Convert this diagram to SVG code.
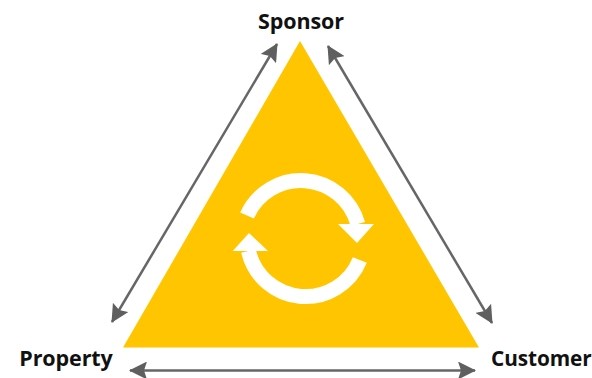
<svg xmlns="http://www.w3.org/2000/svg" width="592" height="378" viewBox="0 0 592 378">
<style>
.lbl{font-family:"Open Sans","Noto Sans",sans-serif;font-weight:700;font-size:21.500px;fill:#111;letter-spacing:-0.1px}
.conn{fill:none;stroke:#666;stroke-width:2.5;marker-start:url(#ah);marker-end:url(#ah)}
.cyc{fill:none;stroke:#fff;stroke-width:15}
</style>
<defs>
<marker id="ah" markerUnits="userSpaceOnUse" viewBox="0 0 18 18" refX="17" refY="9" markerWidth="18" markerHeight="18" orient="auto-start-reverse"><path d="M0 0L18 9L0 18L3 9Z" fill="#5f5f5f"/></marker>
</defs>
<rect width="592" height="378" fill="#fff"/>
<g id="triangle"><polygon points="300,41 479,347.5 123,347.5" fill="#ffc600"/></g>
<g id="cycle">
<path class="cyc" d="M247 215.500A59 59 0 0 1 357.800 224"/>
<polygon points="338,224 374,224 357,243" fill="#fff"/>
<path class="cyc" d="M359.800 260A58.500 58.500 0 0 1 248.500 251"/>
<polygon points="232.700,251 268,251 249,233" fill="#fff"/>
</g>
<g id="connectors">
<path class="conn" d="M277 44L112 322"/>
<path class="conn" d="M328 46L492 323"/>
<path class="conn" d="M130 370.500H475"/>
</g>
<g id="sponsor"><text class="lbl" x="301" y="29" text-anchor="middle">Sponsor</text></g>
<g id="property"><text class="lbl" x="66" y="365.500" text-anchor="middle">Property</text></g>
<g id="customer"><text class="lbl" x="491" y="365.500" style="font-size:20.800px">Customer</text></g>
</svg>
